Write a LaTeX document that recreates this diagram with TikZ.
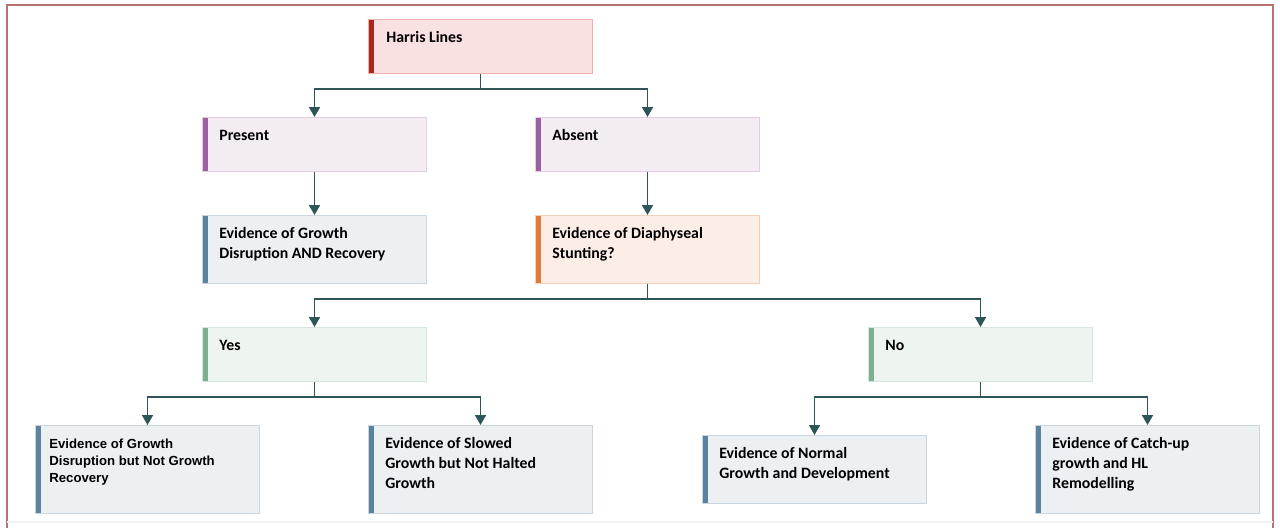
\documentclass[tikz,border=0pt]{standalone}
\usepackage{fontspec}
\setmainfont{Carlito}
\newfontfamily\arialfont{Liberation Sans}
\usetikzlibrary{positioning,arrows.meta}

\definecolor{framecol}{HTML}{B87370}
\definecolor{linkcol}{HTML}{2E5659}
\definecolor{redbar}{HTML}{A8281E}
\definecolor{redfill}{HTML}{F8E1E0}
\definecolor{redline}{HTML}{EFB0AC}
\definecolor{purplebar}{HTML}{9C5FA2}
\definecolor{purplefill}{HTML}{F3ECF3}
\definecolor{purpleline}{HTML}{E4CDE4}
\definecolor{bluebar}{HTML}{5B839D}
\definecolor{bluefill}{HTML}{EDF0F3}
\definecolor{blueline}{HTML}{CAD6DF}
\definecolor{orangebar}{HTML}{E07A38}
\definecolor{orangefill}{HTML}{FCEEE6}
\definecolor{orangeline}{HTML}{F6CFB7}
\definecolor{greenbar}{HTML}{7DB08F}
\definecolor{greenfill}{HTML}{EEF4F0}
\definecolor{greenline}{HTML}{D5E6DA}

\tikzset{
  card/.style={rectangle, draw=#1line, fill=#1fill, line width=0.6pt,
    minimum width=4.48cm, minimum height=1.08cm, anchor=north west, inner sep=0pt,
    path picture={\fill[#1bar] (path picture bounding box.north west) rectangle ([xshift=0.1cm]path picture bounding box.south west);}},
  mid/.style={minimum height=1.36cm},
  tall/.style={minimum height=1.76cm},
  txt/.style={align=left, inner sep=0pt, font=\bfseries\fontsize{9}{11.3}\selectfont},
  arialtxt/.style={align=left, inner sep=0pt, font=\arialfont\bfseries\fontsize{7.5}{9.6}\selectfont},
  link/.style={draw=linkcol, line width=0.9pt},
  arr/.style={link, -{Triangle[width=6.2pt,length=5.6pt]}},
}

\begin{document}
\begin{tikzpicture}[x=0.02cm, y=-0.02cm]
\useasboundingbox (0,0) rectangle (1280,527);
% outer frame
\draw[framecol, line width=1.1pt] (7,540) -- (7,5) -- (1273,5) -- (1273,540);
\draw[black!5, line width=0.6pt] (7,522) -- (1273,522);

% cards
\node[card=red] (harris) at (368,19) {};
\node[card=purple] (present) at (202,117) {};
\node[card=purple] (absent) at (535,117) {};
\node[card=blue, mid] (recovery) at (202,215) {};
\node[card=orange, mid] (stunting) at (535,215) {};
\node[card=green] (yes) at (202,327) {};
\node[card=green] (no) at (868,327) {};
\node[card=blue, tall] (notrecovery) at (35,425) {};
\node[card=blue, tall] (slowed) at (368,425) {};
\node[card=blue, mid] (normal) at (702,435) {};
\node[card=blue, tall] (catchup) at (1035,425) {};

% card texts
\node[txt, below right=0.24cm and 0.36cm of harris.north west] (harris-t) {Harris Lines};
\node[txt, below right=0.25cm and 0.34cm of present.north west] (present-t) {Present};
\node[txt, below right=0.25cm and 0.34cm of absent.north west] (absent-t) {Absent};
\node[txt, below right=0.25cm and 0.34cm of recovery.north west] (recovery-t) {Evidence of Growth\\Disruption AND Recovery};
\node[txt, below right=0.25cm and 0.34cm of stunting.north west] (stunting-t) {Evidence of Diaphyseal\\Stunting?};
\node[txt, below right=0.25cm and 0.34cm of yes.north west] (yes-t) {Yes};
\node[txt, below right=0.25cm and 0.34cm of no.north west] (no-t) {No};
\node[arialtxt, below right=0.27cm and 0.28cm of notrecovery.north west] (notrecovery-t) {Evidence of Growth\\Disruption but Not Growth\\Recovery};
\node[txt, below right=0.25cm and 0.34cm of slowed.north west] (slowed-t) {Evidence of Slowed\\Growth but Not Halted\\Growth};
\node[txt, below right=0.25cm and 0.34cm of normal.north west] (normal-t) {Evidence of Normal\\Growth and Development};
\node[txt, below right=0.25cm and 0.34cm of catchup.north west] (catchup-t) {Evidence of Catch-up\\growth and HL\\Remodelling};

% connectors
\draw[arr] (harris.south) -- ++(0,15) -| (present.north);
\draw[arr] (harris.south) -- ++(0,15) -| (absent.north);
\draw[arr] (present.south) -- (recovery.north);
\draw[arr] (absent.south) -- (stunting.north);
\draw[arr] (stunting.south) -- ++(0,15) -| (yes.north);
\draw[arr] (stunting.south) -- ++(0,15) -| (no.north);
\draw[arr] (yes.south) -- ++(0,15) -| (notrecovery.north);
\draw[arr] (yes.south) -- ++(0,15) -| (slowed.north);
\draw[arr] (no.south) -- ++(0,15) -| (normal.north);
\draw[arr] (no.south) -- ++(0,15) -| (catchup.north);
\end{tikzpicture}
\end{document}
